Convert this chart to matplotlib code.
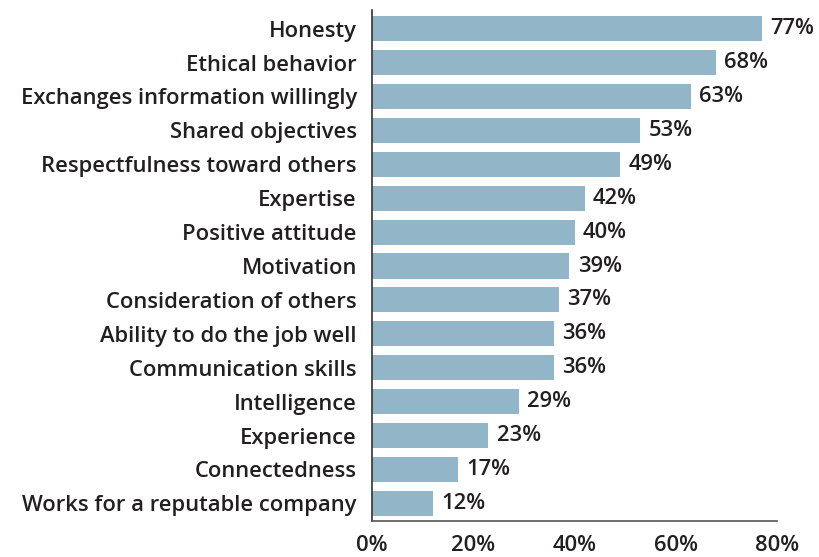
import matplotlib
matplotlib.use("Agg")
import matplotlib.pyplot as plt

# Data
categories = [
    "Honesty",
    "Ethical behavior",
    "Exchanges information willingly",
    "Shared objectives",
    "Respectfulness toward others",
    "Expertise",
    "Positive attitude",
    "Motivation",
    "Consideration of others",
    "Ability to do the job well",
    "Communication skills",
    "Intelligence",
    "Experience",
    "Connectedness",
    "Works for a reputable company",
]
values = [77, 68, 63, 53, 49, 42, 40, 39, 37, 36, 36, 29, 23, 17, 12]
xticks = [0, 20, 40, 60, 80]

bar_color = "#93b5c8"
text_color = "#231f20"
fs = 15.8
fw = "semibold"

plt.rcParams["font.family"] = ["Open Sans", "DejaVu Sans"]

fig = plt.figure(figsize=(8.2, 5.57), dpi=100)
ax = fig.add_axes([0.4537, 0.0646, 0.4939, 0.9174])

y = list(range(len(categories)))
ax.barh(y, values, height=0.74, color=bar_color)

# value labels at the end of each bar
for yi, v in zip(y, values):
    ax.text(v + 1.6, yi, f"{v}%", va="center", ha="left",
            fontsize=fs, fontweight=fw, color=text_color)

ax.set_yticks(y)
ax.set_yticklabels(categories, fontsize=fs, fontweight=fw, color=text_color)
ax.set_ylim(14.52, -0.55)

ax.set_xlim(0, 80)
ax.set_xticks(xticks)
ax.set_xticklabels([f"{t}%" for t in xticks], fontsize=fs, fontweight=fw, color=text_color)

ax.tick_params(axis="both", length=0)
ax.tick_params(axis="y", pad=11)
ax.tick_params(axis="x", pad=10)

for s in ["top", "right"]:
    ax.spines[s].set_visible(False)
ax.spines["left"].set_color("#333333")
ax.spines["bottom"].set_color("#555555")
ax.spines["left"].set_linewidth(1.2)
ax.spines["bottom"].set_linewidth(1.2)

fig.savefig("out.png", dpi=100)
